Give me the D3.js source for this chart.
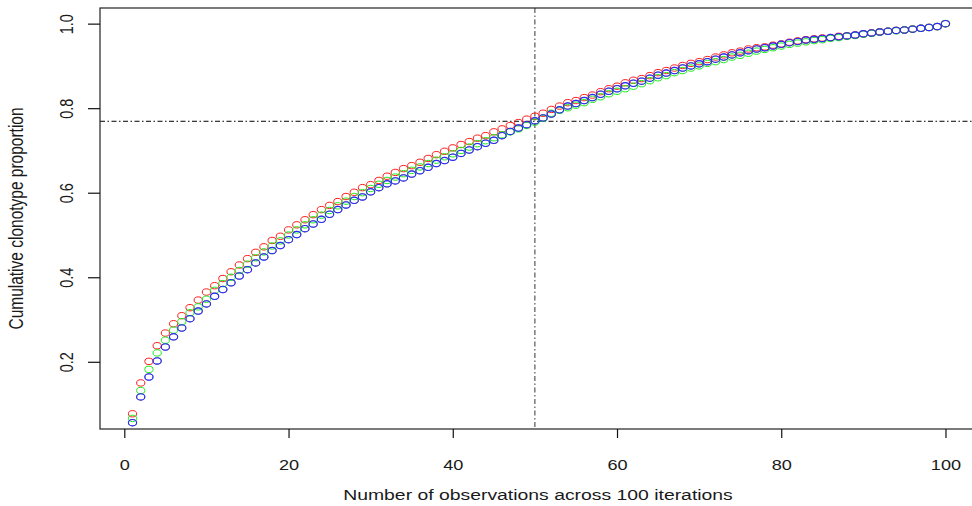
<!DOCTYPE html>
<html>
<head>
<meta charset="utf-8">
<script src="https://cdn.jsdelivr.net/npm/d3@7"></script>
<style>
  html, body { margin: 0; padding: 0; background: #fff; }
  svg { display: block; }
  text { font-family: "Liberation Sans", Arial, sans-serif; fill: #1a1a1a; }
</style>
</head>
<body>
<svg id="chart" width="972" height="506"></svg>
<script>
// ---- data ----
const iterations = d3.range(1, 101);

const seriesBlack = [0.056,0.117,0.164,0.202,0.235,0.259,0.280,0.302,0.320,0.337,
  0.355,0.371,0.387,0.403,0.418,0.434,0.448,0.463,0.475,0.489,
  0.501,0.515,0.526,0.537,0.549,0.560,0.571,0.582,0.590,0.602,
  0.612,0.621,0.628,0.635,0.644,0.652,0.660,0.669,0.676,0.684,
  0.693,0.701,0.709,0.717,0.724,0.735,0.745,0.753,0.761,0.770,
  0.777,0.786,0.796,0.805,0.811,0.818,0.825,0.833,0.840,0.846,
  0.853,0.859,0.864,0.871,0.878,0.883,0.889,0.895,0.900,0.905,
  0.910,0.916,0.921,0.926,0.931,0.936,0.940,0.943,0.947,0.951,
  0.955,0.958,0.961,0.963,0.965,0.967,0.969,0.971,0.973,0.976,
  0.978,0.980,0.982,0.984,0.985,0.987,0.989,0.991,0.993,1.000];

const seriesRed = [0.077,0.150,0.201,0.238,0.268,0.290,0.309,0.328,0.346,0.365,
  0.380,0.397,0.413,0.429,0.444,0.459,0.472,0.487,0.497,0.512,
  0.524,0.536,0.548,0.560,0.570,0.579,0.591,0.601,0.612,0.619,
  0.629,0.639,0.648,0.657,0.664,0.672,0.681,0.690,0.698,0.706,
  0.714,0.721,0.729,0.735,0.744,0.751,0.759,0.766,0.774,0.781,
  0.788,0.797,0.805,0.813,0.818,0.825,0.831,0.839,0.846,0.852,
  0.860,0.866,0.870,0.877,0.884,0.889,0.895,0.901,0.906,0.910,
  0.915,0.921,0.926,0.931,0.935,0.940,0.943,0.945,0.949,0.952,
  0.956,0.959,0.962,0.964,0.966,0.967,0.970,0.971,0.973,0.976,
  0.978,0.981,0.982,0.984,0.985,0.987,0.989,0.991,0.993,1.000];

const seriesGreen = [0.066,0.132,0.182,0.221,0.251,0.275,0.295,0.316,0.330,0.348,
  0.369,0.385,0.400,0.416,0.431,0.446,0.460,0.474,0.486,0.500,
  0.512,0.524,0.536,0.547,0.558,0.569,0.580,0.591,0.600,0.610,
  0.620,0.629,0.637,0.645,0.653,0.661,0.669,0.677,0.685,0.692,
  0.700,0.708,0.716,0.723,0.730,0.737,0.744,0.751,0.759,0.767,
  0.776,0.788,0.795,0.801,0.807,0.813,0.821,0.827,0.834,0.840,
  0.846,0.852,0.858,0.865,0.872,0.877,0.884,0.889,0.895,0.900,
  0.906,0.910,0.915,0.921,0.925,0.930,0.935,0.939,0.943,0.947,
  0.951,0.954,0.957,0.960,0.962,0.965,0.967,0.970,0.972,0.975,
  0.977,0.980,0.982,0.983,0.985,0.987,0.989,0.991,0.993,1.000];

const seriesBlue = [0.056,0.117,0.164,0.202,0.235,0.259,0.280,0.302,0.320,0.337,
  0.355,0.371,0.387,0.403,0.418,0.434,0.448,0.463,0.475,0.489,
  0.501,0.515,0.526,0.537,0.549,0.560,0.571,0.582,0.590,0.602,
  0.612,0.621,0.628,0.635,0.644,0.652,0.660,0.669,0.676,0.684,
  0.693,0.701,0.709,0.717,0.724,0.735,0.745,0.753,0.761,0.770,
  0.777,0.786,0.796,0.805,0.811,0.818,0.825,0.833,0.840,0.846,
  0.853,0.859,0.864,0.871,0.878,0.883,0.889,0.895,0.900,0.905,
  0.910,0.916,0.921,0.926,0.931,0.936,0.940,0.943,0.947,0.951,
  0.955,0.958,0.961,0.963,0.965,0.967,0.969,0.971,0.973,0.976,
  0.978,0.980,0.982,0.984,0.985,0.987,0.989,0.991,0.993,1.000];

const seriesNames = ["black", "red", "green", "blue"];
const seriesColors = ["#000000", "#ff1a1a", "#1aee1a", "#2a2aff"];
const seriesWidths = [0.5, 1, 1, 1.1];
const xTicks = [0, 20, 40, 60, 80, 100];
const yTicks = [0.2, 0.4, 0.6, 0.8, 1.0];
const yDomain = [0.041, 1.037];
const refX = 50;
const refY = 0.769;
const xTitle = "Number of observations across 100 iterations";
const yTitle = "Cumulative clonotype proportion";

// ---- layout ----
const svg = d3.select("#chart");
const box = { left: 100, right: 978, top: 8, bottom: 429 };
const stretch = 1.25;

// R-style 4% padding on x
function pad(ext) { const r = ext[1] - ext[0]; return [ext[0] - 0.04 * r, ext[1] + 0.04 * r]; }
const x = d3.scaleLinear().domain(pad(d3.extent(iterations))).range([box.left, box.right]);
const y = d3.scaleLinear().domain(yDomain).range([box.bottom, box.top]);

// reference lines (dot-dash)
svg.append("line")
  .attr("x1", box.left).attr("x2", box.right)
  .attr("y1", y(refY)).attr("y2", y(refY))
  .attr("stroke", "#000").attr("stroke-width", 1)
  .attr("stroke-dasharray", "5,2.5,1.5,2.5");
svg.append("line")
  .attr("x1", x(refX)).attr("x2", x(refX))
  .attr("y1", box.top).attr("y2", box.bottom)
  .attr("stroke", "#333").attr("stroke-width", 1)
  .attr("stroke-dasharray", "5,2.5,1.5,2.5");

// points
const allSeries = [seriesBlack, seriesRed, seriesGreen, seriesBlue];
allSeries.forEach((vals, i) => {
  svg.append("g").attr("class", "series-" + seriesNames[i])
    .selectAll("ellipse")
    .data(vals)
    .join("ellipse")
    .attr("cx", (d, j) => x(iterations[j]))
    .attr("cy", d => y(d))
    .attr("rx", 4.1)
    .attr("ry", 3.2)
    .attr("fill", "none")
    .attr("stroke", seriesColors[i])
    .attr("stroke-width", seriesWidths[i]);
});

// box
svg.append("rect")
  .attr("x", box.left).attr("y", box.top)
  .attr("width", box.right - box.left).attr("height", box.bottom - box.top)
  .attr("fill", "none").attr("stroke", "#222").attr("stroke-width", 1.2);

// x axis
const xAxis = svg.append("g").attr("transform", `translate(0,${box.bottom})`)
  .call(d3.axisBottom(x).tickValues(xTicks).tickSize(9).tickFormat(d3.format("d")));
xAxis.select(".domain").remove();
xAxis.selectAll(".tick line").attr("stroke", "#111").attr("stroke-width", 1.2);
xAxis.selectAll(".tick text")
  .attr("y", 0).attr("dy", 0)
  .attr("transform", `translate(0,41) scale(${stretch},1)`)
  .attr("font-size", 14.5)
  .attr("font-family", "Liberation Sans, Arial, sans-serif")
  .attr("fill", "#1a1a1a");

// y axis
const yAxis = svg.append("g").attr("transform", `translate(${box.left},0)`)
  .call(d3.axisLeft(y).tickValues(yTicks).tickSize(12).tickFormat(d3.format(".1f")));
yAxis.select(".domain").remove();
yAxis.selectAll(".tick line").attr("stroke", "#111").attr("stroke-width", 1.2);
yAxis.selectAll(".tick text")
  .attr("x", 0).attr("dy", 0).attr("text-anchor", "middle")
  .attr("transform", `translate(-33,0) scale(${stretch},1) rotate(-90) translate(0,5)`)
  .attr("font-size", 14.5)
  .attr("font-family", "Liberation Sans, Arial, sans-serif")
  .attr("fill", "#1a1a1a");

// titles
svg.append("text")
  .attr("transform", `translate(538,500) scale(${stretch},1)`)
  .attr("text-anchor", "middle")
  .attr("font-size", 15.5)
  .text(xTitle);
svg.append("text")
  .attr("transform", `translate(23,${(box.top + box.bottom) / 2}) scale(${stretch},1) rotate(-90)`)
  .attr("text-anchor", "middle")
  .attr("font-size", 15.5)
  .text(yTitle);
</script>
</body>
</html>
